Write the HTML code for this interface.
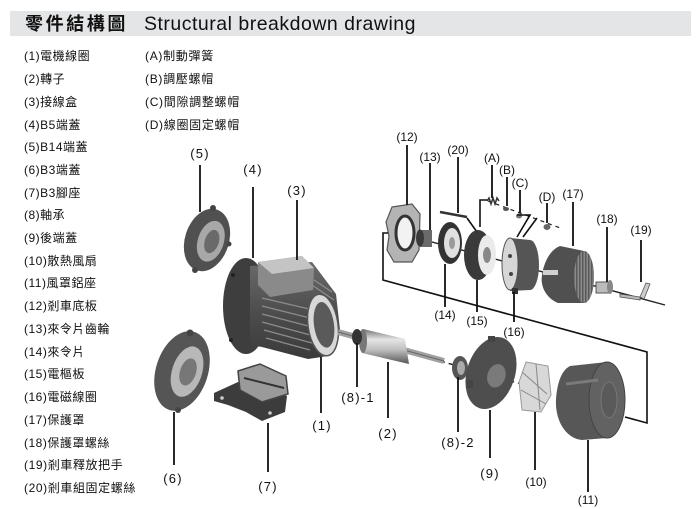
<!DOCTYPE html>
<html><head><meta charset="utf-8">
<style>
html,body{margin:0;padding:0;background:#fff;}
body{width:700px;height:509px;position:relative;overflow:hidden;font-family:"Liberation Sans","Noto Sans CJK TC",sans-serif;}
.band{position:absolute;left:10px;top:11px;width:681px;height:25px;background:#e4e5e6;}
.t1{position:absolute;left:25px;top:12px;font-size:18px;font-weight:bold;letter-spacing:2.6px;line-height:24px;color:#111;font-family:"Liberation Sans","Noto Sans CJK TC",sans-serif;white-space:nowrap;}
.t2{position:absolute;left:144px;top:12px;font-size:19.5px;letter-spacing:0.5px;line-height:24px;color:#111;white-space:nowrap;}
.li{position:absolute;font-size:12px;line-height:14px;color:#111;white-space:nowrap;letter-spacing:0.5px;}
svg{position:absolute;left:0;top:0;}
</style></head><body>
<div class="band"></div>
<div class="t1">零件結構圖</div>
<div class="t2">Structural breakdown drawing</div>

<div class="li" style="left:24px;top:49px">(1)電機線圈</div>
<div class="li" style="left:24px;top:72px">(2)轉子</div>
<div class="li" style="left:24px;top:95px">(3)接線盒</div>
<div class="li" style="left:24px;top:118px">(4)B5端蓋</div>
<div class="li" style="left:24px;top:140px">(5)B14端蓋</div>
<div class="li" style="left:24px;top:163px">(6)B3端蓋</div>
<div class="li" style="left:24px;top:186px">(7)B3腳座</div>
<div class="li" style="left:24px;top:208px">(8)軸承</div>
<div class="li" style="left:24px;top:231px">(9)後端蓋</div>
<div class="li" style="left:24px;top:254px">(10)散熱風扇</div>
<div class="li" style="left:24px;top:276px">(11)風罩鋁座</div>
<div class="li" style="left:24px;top:299px">(12)剎車底板</div>
<div class="li" style="left:24px;top:322px">(13)來令片齒輪</div>
<div class="li" style="left:24px;top:345px">(14)來令片</div>
<div class="li" style="left:24px;top:367px">(15)電樞板</div>
<div class="li" style="left:24px;top:390px">(16)電磁線圈</div>
<div class="li" style="left:24px;top:413px">(17)保護罩</div>
<div class="li" style="left:24px;top:436px">(18)保護罩螺絲</div>
<div class="li" style="left:24px;top:458px;letter-spacing:0.6px">(19)剎車釋放把手</div>
<div class="li" style="left:24px;top:481px;letter-spacing:0.6px">(20)剎車組固定螺絲</div>

<div class="li" style="left:145px;top:49px;letter-spacing:0.7px">(A)制動彈簧</div>
<div class="li" style="left:145px;top:72px;letter-spacing:0.7px">(B)調壓螺帽</div>
<div class="li" style="left:145px;top:95px;letter-spacing:0.7px">(C)間隙調整螺帽</div>
<div class="li" style="left:145px;top:118px;letter-spacing:0.7px">(D)線圈固定螺帽</div>

<svg width="700" height="509" viewBox="0 0 700 509">
<defs>
<linearGradient id="silver" x1="0" y1="0" x2="0" y2="1">
<stop offset="0" stop-color="#707070"/><stop offset="0.3" stop-color="#e6e6e6"/><stop offset="0.6" stop-color="#bdbdbd"/><stop offset="1" stop-color="#555"/>
</linearGradient>
<linearGradient id="body" x1="0" y1="0" x2="0" y2="1">
<stop offset="0" stop-color="#6a6a6a"/><stop offset="0.5" stop-color="#4e4e4e"/><stop offset="1" stop-color="#3a3a3a"/>
</linearGradient>
<pattern id="hatch" width="3" height="3" patternUnits="userSpaceOnUse">
<rect width="3" height="3" fill="#8a8a8a"/><rect width="1.5" height="3" fill="#5a5a5a"/>
</pattern>
</defs>

<!-- axis lines -->
<line x1="395" y1="232" x2="665" y2="305" stroke="#222" stroke-width="1.4"/>
<line x1="440" y1="361" x2="525" y2="385" stroke="#222" stroke-width="1.4" stroke-dasharray="5,4"/>
<line x1="488" y1="201" x2="563" y2="229" stroke="#222" stroke-width="1.2" stroke-dasharray="4,4"/>

<!-- (5) B14 end cover -->
<g transform="rotate(18 207 240)">
<ellipse cx="207" cy="240" rx="22" ry="32" fill="#505050"/>
<ellipse cx="211" cy="240" rx="13" ry="21" fill="#a8a8a8"/>
<ellipse cx="212" cy="240" rx="7" ry="12" fill="#6a6a6a"/>
</g>
<circle cx="213" cy="208" r="3" fill="#444"/><circle cx="195" cy="270" r="3" fill="#444"/><circle cx="229" cy="244" r="2.5" fill="#444"/>

<!-- (4) flange + motor body -->
<ellipse cx="246" cy="306" rx="23" ry="48" fill="#3e3e3e"/>
<path d="M250,266 L312,262 L336,294 L340,330 L328,356 L308,359 L262,347 L250,345 Z" fill="url(#body)"/>
<g stroke="#8c8c8c" stroke-width="1.3">
<line x1="262" y1="298" x2="322" y2="312"/><line x1="262" y1="306" x2="318" y2="320"/>
<line x1="262" y1="314" x2="316" y2="328"/><line x1="262" y1="322" x2="314" y2="336"/>
<line x1="264" y1="330" x2="312" y2="343"/><line x1="266" y1="338" x2="310" y2="350"/>
<line x1="312" y1="285" x2="334" y2="300"/><line x1="314" y1="280" x2="332" y2="292"/>
</g>
<polygon points="258,262 302,256 314,268 313,290 270,297 258,285" fill="#8a8a8a"/>
<polygon points="258,262 302,256 314,268 272,274" fill="#c4c4c4"/>
<g transform="rotate(-8 323 325)">
<ellipse cx="323" cy="325" rx="15" ry="31" fill="#d8d8d8" stroke="#555" stroke-width="1.5"/>
<ellipse cx="324" cy="325" rx="10" ry="23" fill="#5a5a5a"/>
</g>
<circle cx="233" cy="275" r="2" fill="#222"/><circle cx="231" cy="340" r="2" fill="#222"/>

<!-- (6) B3 end cover -->
<g transform="rotate(18 182 371)">
<ellipse cx="182" cy="371" rx="26" ry="41" fill="#555"/>
<ellipse cx="187" cy="370" rx="15" ry="26" fill="#b8b8b8"/>
<ellipse cx="188" cy="370" rx="8" ry="14" fill="#777"/>
</g>
<circle cx="190" cy="333" r="3.5" fill="#444"/><circle cx="178" cy="410" r="3" fill="#444"/>

<!-- (7) foot -->
<polygon points="214,393 238,382 262,388 287,396 285,412 262,421 246,412 228,405 214,401" fill="#3c3c3c"/>
<polygon points="238,371 260,364 286,376 288,394 262,402 240,390" fill="#9a9a9a" stroke="#444" stroke-width="1.5"/>
<line x1="244" y1="378" x2="284" y2="388" stroke="#333" stroke-width="2"/>
<circle cx="222" cy="398" r="1.8" fill="#ccc"/><circle cx="270" cy="413" r="1.8" fill="#ccc"/>

<!-- (2) rotor -->
<line x1="338" y1="332" x2="444" y2="361" stroke="#a0a0a0" stroke-width="6"/>
<line x1="338" y1="332" x2="444" y2="361" stroke="#666" stroke-width="1"/>
<polygon points="363,329 405,339 409,364 362,353" fill="url(#silver)"/>
<ellipse cx="363" cy="341" rx="4" ry="12" fill="#777"/>
<ellipse cx="357" cy="337" rx="5" ry="8" fill="#333"/>

<!-- (8)-2 bearing -->
<ellipse cx="460" cy="368" rx="8" ry="12" fill="#555"/>
<ellipse cx="461" cy="368" rx="4" ry="7" fill="#aaa"/>

<!-- (9) end cover -->
<g transform="rotate(18 491 373)">
<ellipse cx="491" cy="373" rx="24" ry="37" fill="#4e4e4e"/>
<ellipse cx="497" cy="374" rx="9" ry="12" fill="#7a7a7a"/>
</g>
<rect x="467" y="380" width="6" height="8" fill="#444"/><rect x="488" y="336" width="7" height="6" fill="#444"/>

<!-- (10) fan -->
<polygon points="526,362 548,366 551,395 541,412 522,410 519,382" fill="#d8d8d8" stroke="#999" stroke-width="1"/>
<g stroke="#888" stroke-width="1"><line x1="522" y1="372" x2="547" y2="394"/><line x1="521" y1="390" x2="546" y2="404"/><line x1="536" y1="364" x2="540" y2="410"/></g>

<!-- (11) fan cover -->
<path d="M570,366 L607,362 A18,38 0 0 1 607,438 L582,440 C564,438 555,418 556,400 C557,382 562,370 570,366 Z" fill="#575757"/>
<ellipse cx="607" cy="400" rx="18" ry="38" fill="#626262" stroke="#444" stroke-width="1"/>
<ellipse cx="609" cy="400" rx="8" ry="18" fill="#5a5a5a" stroke="#777" stroke-width="1"/>
<line x1="566" y1="384" x2="598" y2="380" stroke="#7a7a7a" stroke-width="3"/>

<!-- (12) brake plate -->
<path d="M392,207 L412,204 L420,214 L419,250 L412,262 L394,262 L387,250 L389,236 L386,222 Z" fill="#b4b4b4" stroke="#555" stroke-width="1.2"/>
<ellipse cx="405" cy="233" rx="9" ry="17" fill="#f2f2f2" stroke="#333" stroke-width="3"/>

<!-- (13) gear -->
<rect x="420" y="230" width="12" height="17" fill="#6a6a6a"/>
<ellipse cx="420" cy="238" rx="4" ry="8.5" fill="#3a3a3a"/>

<!-- (14) disc -->
<ellipse cx="450" cy="243" rx="12" ry="21" fill="#333"/>
<ellipse cx="452" cy="243" rx="8" ry="15" fill="#e0e0e0"/>
<ellipse cx="452" cy="243" rx="3" ry="6" fill="#999"/>

<!-- (20) screw -->
<line x1="440" y1="212" x2="467" y2="217" stroke="#333" stroke-width="2.5"/>
<line x1="467" y1="218" x2="477" y2="232" stroke="#111" stroke-width="1.6"/>

<!-- (15) armature -->
<ellipse cx="478" cy="255" rx="14" ry="25" fill="#3a3a3a"/>
<ellipse cx="487" cy="255" rx="9" ry="20" fill="#ebebeb"/>
<ellipse cx="487" cy="255" rx="4" ry="8" fill="#888"/>

<!-- (16) coil -->
<path d="M510,238 L530,240 A9,25 0 0 1 530,290 L510,291 Z" fill="#555"/>
<ellipse cx="510" cy="264" rx="8" ry="26" fill="#d6d6d6" stroke="#555" stroke-width="1"/>
<circle cx="510" cy="256" r="2" fill="#444"/><circle cx="511" cy="274" r="2" fill="#444"/>
<rect x="512" y="288" width="6" height="6" fill="#333"/>

<!-- springs -->
<path d="M487,201 l2,-3 l2,6 l2,-6 l2,6 l2,-6 l2,3" fill="none" stroke="#333" stroke-width="1.5"/>
<ellipse cx="506" cy="209" rx="3" ry="2" fill="#555"/>
<ellipse cx="519" cy="216" rx="3" ry="2.5" fill="#777"/>
<ellipse cx="547" cy="227" rx="3.5" ry="3" fill="#666"/>
<path d="M517,215 L530,215 L517,237" fill="none" stroke="#111" stroke-width="1.6"/>
<line x1="537" y1="218" x2="523" y2="237" stroke="#111" stroke-width="1.6"/>

<!-- (17) brake cover -->
<path d="M560,246 L584,251 A10,26 0 0 1 584,303 L558,303 C546,298 540,286 542,275 C544,262 550,250 560,246 Z" fill="#505050"/>
<ellipse cx="584" cy="277" rx="10" ry="26" fill="url(#hatch)"/>
<rect x="543" y="270" width="15" height="5" fill="#d0d0d0"/>

<!-- (18) screw -->
<rect x="596" y="282" width="14" height="11" fill="#bbb" stroke="#555" stroke-width="1"/>
<ellipse cx="610" cy="287" rx="3" ry="7" fill="#888"/>

<!-- (19) handle -->
<polygon points="620,294 640,297 640,300 620,297" fill="#bbb" stroke="#555" stroke-width="0.8"/>
<polygon points="640,297 646,283 650,284 644,299" fill="#ccc" stroke="#555" stroke-width="0.8"/>

<!-- main bracket -->
<path d="M388,233 L383,233 L383,280 L647,352 L647,423 L625,417" fill="none" stroke="#111" stroke-width="1.6"/>

<!-- leader lines -->
<g stroke="#111" stroke-width="1.8">
<line x1="200" y1="165" x2="200" y2="212"/>
<line x1="253" y1="187" x2="253" y2="258"/>
<line x1="297" y1="200" x2="297" y2="260"/>
<line x1="174" y1="412" x2="174" y2="465"/>
<line x1="268" y1="423" x2="268" y2="472"/>
<line x1="321" y1="357" x2="321" y2="413"/>
<line x1="357" y1="343" x2="357" y2="387"/>
<line x1="388" y1="362" x2="388" y2="418"/>
<line x1="458" y1="377" x2="458" y2="432"/>
<line x1="490" y1="410" x2="490" y2="458"/>
<line x1="535" y1="412" x2="535" y2="470"/>
<line x1="588" y1="440" x2="588" y2="492"/>
<line x1="407" y1="145" x2="407" y2="205"/>
<line x1="430" y1="163" x2="430" y2="230"/>
<line x1="458" y1="157" x2="458" y2="213"/>
<line x1="492" y1="165" x2="492" y2="198"/>
<line x1="507" y1="177" x2="507" y2="206"/>
<line x1="520" y1="190" x2="520" y2="213"/>
<line x1="547" y1="203" x2="547" y2="223"/>
<line x1="573" y1="202" x2="573" y2="246"/>
<line x1="607" y1="227" x2="607" y2="282"/>
<line x1="641" y1="240" x2="641" y2="282"/>
<line x1="445" y1="264" x2="445" y2="307"/>
<line x1="477" y1="280" x2="477" y2="312"/>
<line x1="514" y1="292" x2="514" y2="322"/>
</g>
<path d="M480,227 L480,200 L487,200" fill="none" stroke="#111" stroke-width="1.6"/>

<!-- labels -->
<g font-family="Liberation Sans, sans-serif" font-size="13" fill="#111" text-anchor="middle" letter-spacing="1.2">
<text x="200" y="158">(5)</text>
<text x="253" y="174">(4)</text>
<text x="297" y="195">(3)</text>
<text x="173" y="483">(6)</text>
<text x="268" y="491">(7)</text>
<text x="322" y="430">(1)</text>
<text x="358" y="402">(8)-1</text>
<text x="388" y="438">(2)</text>
<text x="458" y="447">(8)-2</text>
<text x="490" y="478">(9)</text>
</g>
<g font-family="Liberation Sans, sans-serif" font-size="12" fill="#111" text-anchor="middle">
<text x="536" y="486">(10)</text>
<text x="588" y="504">(11)</text>
<text x="445" y="319">(14)</text>
<text x="477" y="325">(15)</text>
<text x="514" y="336">(16)</text>
<text x="407" y="141">(12)</text>
<text x="430" y="161">(13)</text>
<text x="458" y="154">(20)</text>
<text x="492" y="162">(A)</text>
<text x="507" y="174">(B)</text>
<text x="520" y="187">(C)</text>
<text x="547" y="201">(D)</text>
<text x="573" y="198">(17)</text>
<text x="607" y="223">(18)</text>
<text x="641" y="234">(19)</text>
</g>
</svg>
</body></html>
